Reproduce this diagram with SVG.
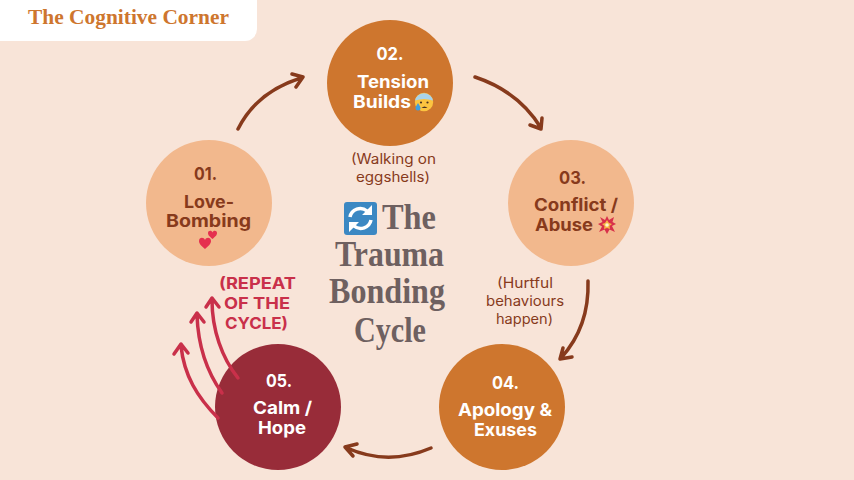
<svg xmlns="http://www.w3.org/2000/svg" width="854" height="480" viewBox="0 0 854 480">
<style>
text{text-anchor:middle}
.n{font-family:"Inter","Liberation Sans",sans-serif;font-weight:700;font-size:17.5px}
.w{fill:#fff}
.b{fill:#873a1c}
.s{font-family:"Inter","Liberation Sans",sans-serif;font-size:14px;fill:#873a1c}
.r{font-family:"Inter","Liberation Sans",sans-serif;font-weight:700;font-size:16px;fill:#c9304a}
.t{font-family:"Liberation Serif",serif;font-weight:700;font-size:35px;fill:#6e6060}
.a{fill:none;stroke:#873a1c;stroke-width:3.500;stroke-linecap:round;stroke-linejoin:round}
.c{fill:none;stroke:#c9304a;stroke-width:3.500;stroke-linecap:round;stroke-linejoin:round}
</style>
<rect width="854" height="480" fill="#f8e4d8"/>
<g id="header">
<path d="M0 0H257V29a12 12 0 0 1-12 12H0Z" fill="#fff"/>
<text x="128.500" y="24" font-family="Liberation Serif,serif" font-weight="700" font-size="20.500" fill="#ce762e" textLength="201" lengthAdjust="spacingAndGlyphs">The Cognitive Corner</text>
</g>
<g id="node-01">
<circle cx="209" cy="203" r="63" fill="#f2b88d"/>
<text class="n b" x="205.500" y="180" textLength="23" lengthAdjust="spacingAndGlyphs">01.</text>
<text class="n b" x="209" y="208" textLength="50" lengthAdjust="spacingAndGlyphs">Love-</text>
<text class="n b" x="208.500" y="227" textLength="85" lengthAdjust="spacingAndGlyphs">Bombing</text>
<path d="M205 249C200 245 199 243 199 241C199 237 204 237 205 240C206 237 211 237 211 241C211 243 210 245 205 249Z" fill="#e5304f"/>
<path d="M212.500 239C209 236 208 235 208 233C208 230 212 230 212.500 232.500C213 230 217 230 217 233C217 235 216 236 212.500 239Z" fill="#e5304f"/>
</g>
<g id="node-02">
<circle cx="390" cy="83" r="63" fill="#ce762e"/>
<text class="n w" x="390" y="60" textLength="27" lengthAdjust="spacingAndGlyphs">02.</text>
<text class="n w" x="393" y="88" textLength="72" lengthAdjust="spacingAndGlyphs">Tension</text>
<text class="n w" x="382" y="108" textLength="58" lengthAdjust="spacingAndGlyphs">Builds</text>
<circle cx="424" cy="102" r="9.200" fill="#fcc440"/>
<path d="M415 100.500a9.200 9.200 0 0 1 18 0q-9-3-18 0Z" fill="#a9d3ea"/>
<path d="M418 103c-1.500 2.500-2.500 3.800-2.500 5a2.500 2.500 0 0 0 5 0c0-1.200-1-2.500-2.500-5Z" fill="#3f9fe0"/>
<circle cx="421" cy="102.500" r="1.100" fill="#4d3320"/><circle cx="427.500" cy="102.500" r="1.100" fill="#4d3320"/>
<path d="M421.500 108q3-3 6 0Z" fill="#4d3320"/>
<text class="s" x="393.500" y="164" textLength="85" lengthAdjust="spacingAndGlyphs">(Walking on</text>
<text class="s" x="393" y="182" textLength="74" lengthAdjust="spacingAndGlyphs">eggshells)</text>
</g>
<g id="node-03">
<circle cx="571" cy="203" r="63" fill="#f2b88d"/>
<text class="n b" x="572.500" y="184" textLength="27" lengthAdjust="spacingAndGlyphs">03.</text>
<text class="n b" x="576" y="211" textLength="84" lengthAdjust="spacingAndGlyphs">Conflict /</text>
<text class="n b" x="564" y="231" textLength="58" lengthAdjust="spacingAndGlyphs">Abuse</text>
<path d="M607 216L609 220L614 217L612.500 222L616 224L612 226L615 232L609.500 229.500L607 234L604.500 229.500L599 232L602 226.500L598 224L602.500 222L600 217L605 220Z" fill="#d8304a"/>
<path d="M607 220L609 223L612 224L609.500 226L610 229L607 228L604 229L604.500 226L602 224L605 223Z" fill="#f6b545"/>
<circle cx="607" cy="225" r="1.800" fill="#fff3d0"/>
<text class="s" x="525" y="288" textLength="56" lengthAdjust="spacingAndGlyphs">(Hurtful</text>
<text class="s" x="525" y="306" textLength="78" lengthAdjust="spacingAndGlyphs">behaviours</text>
<text class="s" x="524.500" y="323.500" textLength="57" lengthAdjust="spacingAndGlyphs">happen)</text>
</g>
<g id="node-04">
<circle cx="502" cy="407" r="63" fill="#ce762e"/>
<text class="n w" x="505.500" y="389" textLength="27" lengthAdjust="spacingAndGlyphs">04.</text>
<text class="n w" x="505" y="416" textLength="94" lengthAdjust="spacingAndGlyphs">Apology &amp;</text>
<text class="n w" x="505.500" y="436" textLength="63" lengthAdjust="spacingAndGlyphs">Exuses</text>
</g>
<g id="node-05">
<circle cx="278" cy="407" r="63" fill="#982c39"/>
<text class="n w" x="279" y="387" textLength="26" lengthAdjust="spacingAndGlyphs">05.</text>
<text class="n w" x="282.500" y="414" textLength="59" lengthAdjust="spacingAndGlyphs">Calm /</text>
<text class="n w" x="282" y="434" textLength="48" lengthAdjust="spacingAndGlyphs">Hope</text>
<text class="r" x="257.500" y="289" textLength="77" lengthAdjust="spacingAndGlyphs">(REPEAT</text>
<text class="r" x="257" y="309" textLength="66" lengthAdjust="spacingAndGlyphs">OF THE</text>
<text class="r" x="256.500" y="329" textLength="63" lengthAdjust="spacingAndGlyphs">CYCLE)</text>
</g>
<g id="title">
<rect x="344" y="202" width="33" height="33" rx="3" fill="#3b88c3"/>
<path d="M350 217a10.500 10.500 0 0 1 17-6" fill="none" stroke="#fff" stroke-width="3.500"/>
<path d="M371 220a10.500 10.500 0 0 1-17 6" fill="none" stroke="#fff" stroke-width="3.500"/>
<path d="M372 205v10h-10ZM349 232v-10h10Z" fill="#fff"/>
<text class="t" x="409" y="229" textLength="54" lengthAdjust="spacingAndGlyphs">The</text>
<text class="t" x="389.500" y="266" textLength="109" lengthAdjust="spacingAndGlyphs">Trauma</text>
<text class="t" x="387" y="303" textLength="116" lengthAdjust="spacingAndGlyphs">Bonding</text>
<text class="t" x="390" y="342" textLength="72" lengthAdjust="spacingAndGlyphs">Cycle</text>
</g>
<g id="connectors">
<path class="a" d="M238 129C250 105 272 87 301 78M292 74L303 77L296 87"/>
<path class="a" d="M475 77C505 87 527 105 541 128M542 118L541 129L530 125"/>
<path class="a" d="M588 281C589 312 580 337 561 358M563 348L560 359L572 357"/>
<path class="a" d="M431 448C403 460 374 460 347 448M357 444L345 447L353 456"/>
<path class="c" d="M218 418C197 397 184 375 181 346M174 354L181 344L188 353"/>
<path class="c" d="M222 393C207 372 198 345 197 315M191 322L197 313L204 322"/>
<path class="c" d="M238 378C222 358 212 330 212 300M206 307L212 298L219 307"/>
</g>
</svg>
